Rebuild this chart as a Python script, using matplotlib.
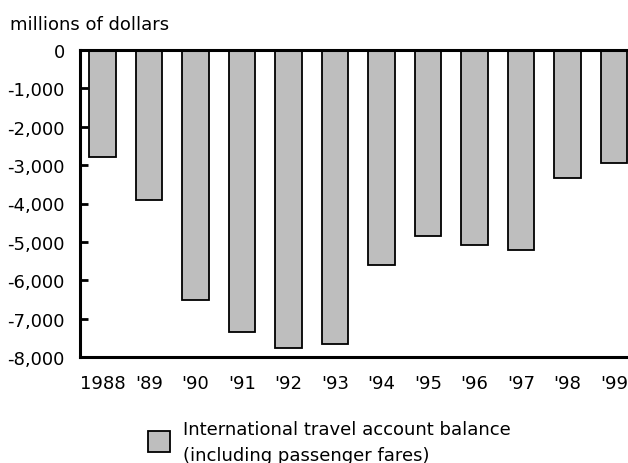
import matplotlib
matplotlib.use("Agg")
import matplotlib.pyplot as plt
from matplotlib.patches import Rectangle

years = ["1988", "'89", "'90", "'91", "'92", "'93", "'94", "'95", "'96", "'97", "'98", "'99"]
balance = [-2800, -3900, -6520, -7340, -7770, -7650, -5590, -4840, -5090, -5200, -3340, -2950]
yticks = [0, -1000, -2000, -3000, -4000, -5000, -6000, -7000, -8000]
ytick_labels = ["0", "-1,000", "-2,000", "-3,000", "-4,000", "-5,000", "-6,000", "-7,000", "-8,000"]

plt.rcParams['font.family'] = ['DejaVu Sans']
FS = 13.0

W, H = 628, 464
fig = plt.figure(figsize=(W / 100, H / 100), dpi=100)
ax = fig.add_axes([80 / W, 1 - 358 / H, (W - 80) / W, (358 - 51) / H])

x = list(range(len(years)))
ax.bar(x, balance, width=0.57, color="#bebebe", edgecolor="black", linewidth=1.3, zorder=2)

ax.set_ylim(-8000, 0)
ax.set_xlim(-0.484, 11.305)
ax.set_yticks(yticks)
ax.set_yticklabels(ytick_labels, fontsize=FS)
ax.set_xticks(x)
ax.set_xticklabels(years, fontsize=FS)
ax.tick_params(axis='y', direction='in', length=6, width=2, pad=11)
ax.tick_params(axis='x', length=0, pad=12)

for s in ['left', 'top', 'bottom']:
    ax.spines[s].set_linewidth(2.2)
    ax.spines[s].set_zorder(3)
ax.spines['right'].set_visible(False)

fig.text(10 / W, 1 - 25 / H, "millions of dollars", fontsize=FS, va='center', ha='left')

# legend
fig.add_artist(Rectangle((148 / W, 1 - 453 / H), 22 / W, 21 / H, transform=fig.transFigure,
                         facecolor="#bebebe", edgecolor="black", linewidth=1.3))
fig.text(183 / W, 1 - 430 / H, "International travel account balance", fontsize=FS, va='center', ha='left')
fig.text(183 / W, 1 - 456 / H, "(including passenger fares)", fontsize=FS, va='center', ha='left')

fig.savefig("out.png", dpi=100)
